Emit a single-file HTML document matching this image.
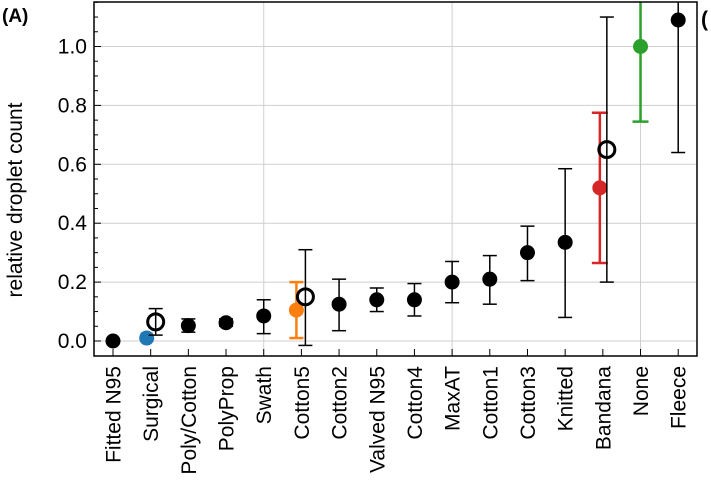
<!DOCTYPE html>
<html><head><meta charset="utf-8"><style>
html,body{margin:0;padding:0;background:#fff;}
svg{display:block;font-family:"Liberation Sans",Arial,sans-serif;}
</style></head><body>
<svg id="s" width="711" height="483" viewBox="0 0 711 483" xmlns="http://www.w3.org/2000/svg"></svg>
<script>
const s=document.getElementById('s');
let h='';
const Y=v=>341-v*294.5, X=i=>113+i*37.68;
const L=94,R=697,T=2,B=356;
for(let v=0;v<=1.0001;v+=0.2)h+=`<line x1="${L}" x2="${R}" y1="${Y(v)}" y2="${Y(v)}" stroke="#cfcfcf" stroke-width="1"/>`;
[4,9,14].forEach(i=>h+=`<line x1="${X(i)}" x2="${X(i)}" y1="${T}" y2="${B}" stroke="#cfcfcf" stroke-width="1"/>`);
for(let k=0;k<=23;k++){const v=k*0.05;const y=Y(v);if(y<T)break;const maj=k%4==0;
h+=`<line x1="${L}" x2="${L+(maj?7:4)}" y1="${y}" y2="${y}" stroke="#000" stroke-width="1"/>`;
if(maj)h+=`<text x="87" y="${y+7}" font-size="21" text-anchor="end">${v.toFixed(1)}</text>`;}
const names=["Fitted N95","Surgical","Poly/Cotton","PolyProp","Swath","Cotton5","Cotton2","Valved N95","Cotton4","MaxAT","Cotton1","Cotton3","Knitted","Bandana","None","Fleece"];
names.forEach((n,i)=>{const x=X(i);h+=`<line x1="${x}" x2="${x}" y1="${B}" y2="${B-7}" stroke="#000"/>`;
h+=`<text transform="translate(${x+7.5},366) rotate(-90)" font-size="21" text-anchor="end">${n}</text>`;});
function eb(x,v,lo,hi,c,w,cap){const y1=Math.max(Y(hi),T),y2=Y(lo);
h+=`<line x1="${x}" x2="${x}" y1="${y1}" y2="${y2}" stroke="${c}" stroke-width="${w}"/>`;
if(Y(hi)>T)h+=`<line x1="${x-cap}" x2="${x+cap}" y1="${y1}" y2="${y1}" stroke="${c}" stroke-width="${w}"/>`;
h+=`<line x1="${x-cap}" x2="${x+cap}" y1="${y2}" y2="${y2}" stroke="${c}" stroke-width="${w}"/>`;}
function dot(x,v,c){h+=`<circle cx="${x}" cy="${Y(v)}" r="7.5" fill="${c}"/>`;}
function open(x,v){h+=`<circle cx="${x}" cy="${Y(v)}" r="8" fill="none" stroke="#000" stroke-width="3"/>`;}
const d=[[0,0,0,0],[2,0.052,0.03,0.075],[3,0.062,0.05,0.075],[4,0.085,0.025,0.14],[6,0.125,0.035,0.21],[7,0.14,0.1,0.18],[8,0.14,0.085,0.195],[9,0.2,0.13,0.27],[10,0.21,0.125,0.29],[11,0.3,0.205,0.39],[12,0.335,0.08,0.585],[15,1.09,0.64,1.2]];
d.forEach(([i,v,lo,hi])=>{if(hi>lo)eb(X(i),v,lo,hi,'#000',1.5,7);dot(X(i),v,'#000');});
eb(X(1)-4,0.01,0.0,0.025,'#1f77b4',2.5,6);dot(X(1)-4,0.01,'#1f77b4');
eb(X(1)+5,0.065,0.02,0.11,'#000',1.5,7);open(X(1)+5,0.065);
eb(X(5)-5,0.105,0.01,0.2,'#ff7f0e',2.5,7);dot(X(5)-5,0.105,'#ff7f0e');
eb(X(5)+4,0.15,-0.015,0.31,'#000',1.5,7);open(X(5)+4,0.15);
eb(X(13)-3,0.52,0.265,0.775,'#d62728',2.5,8);dot(X(13)-3,0.52,'#d62728');
eb(X(13)+4,0.65,0.2,1.1,'#000',1.5,7);open(X(13)+4,0.65);
eb(X(14),1.0,0.745,1.2,'#2ca02c',2.5,8);dot(X(14),1.0,'#2ca02c');
h+=`<rect x="${L}" y="${T}" width="${R-L}" height="${B-T}" fill="none" stroke="#000" stroke-width="1.5"/>`;
h+=`<text transform="translate(22,200) rotate(-90)" font-size="21" text-anchor="middle">relative droplet count</text>`;
h+=`<text x="2" y="22" font-size="19" font-weight="bold">(A)</text>`;
h+=`<text x="701" y="26" font-size="21" font-weight="bold">(</text>`;
s.innerHTML=h;
</script>
</body></html>
